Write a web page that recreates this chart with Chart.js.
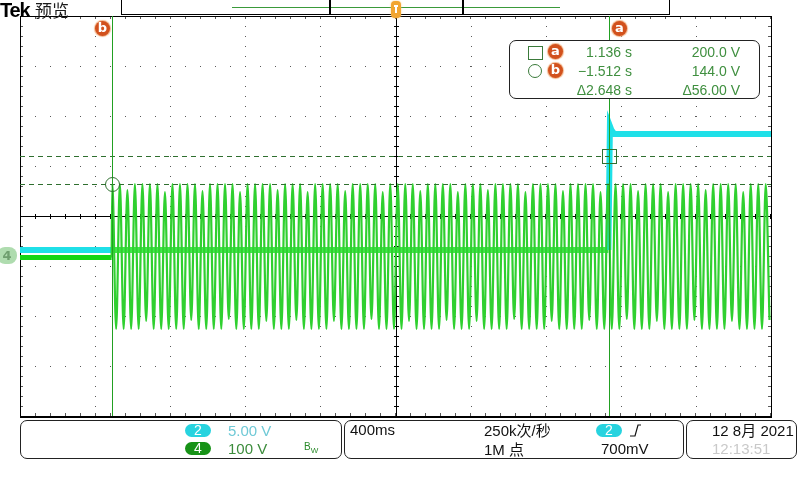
<!DOCTYPE html>
<html>
<head>
<meta charset="utf-8">
<script src="https://cdn.jsdelivr.net/npm/chart.js@4/dist/chart.umd.min.js"></script>
<style>
  html, body { margin: 0; padding: 0; background: #fff; }
  #wrap { position: relative; width: 800px; height: 480px; overflow: hidden; font-family: "Liberation Sans", "DejaVu Sans", sans-serif; }
  #scope { position: absolute; left: 0; top: 0; }
  .abs { position: absolute; white-space: nowrap; }
  .box { position: absolute; border: 1px solid #222; border-radius: 7px; background: #fff; box-sizing: border-box; }
  .ro { color: #3f8f3f; font-size: 14px; line-height: 16px; }
  .tag { position: absolute; width: 15px; height: 15px; border-radius: 50%; background: #d2511d; color: #fff;
         font: bold 13px/14px "DejaVu Sans", sans-serif; text-align: center; box-shadow: 0 0 1px 1px #f2b58a; }
  .pill { position: absolute; width: 26px; height: 13px; border-radius: 7px; color: #fff; text-align: center;
          font: 14px/13px "Liberation Sans", sans-serif; }
  .bt { font-size: 15px; line-height: 16px; color: #111; }
  .cjk { font-family: "Noto Sans CJK SC", sans-serif; }
</style>
</head>
<body>
<div id="wrap">
  <canvas id="scope" width="800" height="480"></canvas>

  <!-- header -->
  <div class="abs" style="left:0;top:1px;font:bold 20px/18px 'Liberation Sans',sans-serif;letter-spacing:-1.2px;color:#000">Tek</div>
  <div class="abs cjk" style="left:35px;top:0;font-size:17px;line-height:20px;color:#1a1a1a">预览</div>
  <div class="abs" style="left:121px;top:-1px;width:549px;height:16px;border:1px solid #000;box-sizing:border-box;background:#fff"></div>
  <div class="abs" style="left:232px;top:7px;width:328px;height:1px;background:#3a9a3a"></div>
  <div class="abs" style="left:329px;top:0;width:135px;height:15px;border-left:2px solid #000;border-right:2px solid #000;box-sizing:border-box"></div>
  <div class="abs" style="left:391px;top:1px;width:10px;height:17px;border-radius:4px;background:#f1a531;box-shadow:0 0 2px #f6c77a"></div>
  <div class="abs" style="left:394px;top:5px;width:4px;height:2px;background:#fff"></div>
  <div class="abs" style="left:395px;top:5px;width:2px;height:8px;background:#fff"></div>

  <!-- cursor labels -->
  <div class="tag" style="left:95px;top:21px">b</div>
  <div class="tag" style="left:612px;top:21px">a</div>

  <!-- ground marker -->
  <div class="abs" style="left:-3px;top:247px;width:20px;height:17px;border-radius:8px;background:#afdcaf;color:#6f9f6f;font:bold 13px/17px 'DejaVu Sans',sans-serif;text-align:center">4</div>

  <!-- cursor readout -->
  <div class="box" style="left:509px;top:40px;width:251px;height:59px"></div>
  <div class="abs" style="left:528px;top:46px;width:13px;height:12px;border:1px solid #3a7a3a"></div>
  <div class="abs" style="left:528px;top:64px;width:14px;height:14px;border:1px solid #3a7a3a;border-radius:50%;box-sizing:border-box"></div>
  <div class="tag" style="left:548px;top:44px">a</div>
  <div class="tag" style="left:548px;top:63px">b</div>
  <div class="abs ro" style="right:168px;top:44px">1.136 s</div>
  <div class="abs ro" style="right:168px;top:63px">−1.512 s</div>
  <div class="abs ro" style="right:168px;top:82px">Δ2.648 s</div>
  <div class="abs ro" style="right:60px;top:44px">200.0 V</div>
  <div class="abs ro" style="right:60px;top:63px">144.0 V</div>
  <div class="abs ro" style="right:60px;top:82px">Δ56.00 V</div>

  <!-- bottom status -->
  <div class="box" style="left:20px;top:420px;width:322px;height:39px"></div>
  <div class="pill" style="left:185px;top:424px;background:#27d3df">2</div>
  <div class="pill" style="left:185px;top:442px;background:#179217">4</div>
  <div class="abs bt" style="left:228px;top:423px;color:#6fc9d6">5.00 V</div>
  <div class="abs bt" style="left:228px;top:441px;color:#3c8c3c">100 V</div>
  <div class="abs" style="left:304px;top:441px;font-size:10px;color:#2a8a2a">B<sub style="font-size:8px">W</sub></div>

  <div class="box" style="left:344px;top:420px;width:340px;height:39px"></div>
  <div class="abs bt" style="left:350px;top:422px">400ms</div>
  <div class="abs bt" style="left:484px;top:422px">250k<span class="cjk">次</span>/<span class="cjk">秒</span></div>
  <div class="abs bt" style="left:484px;top:441px">1M <span class="cjk">点</span></div>
  <div class="pill" style="left:596px;top:424px;background:#27d3df">2</div>
  <svg class="abs" style="left:628px;top:422px" width="14" height="16"><polyline points="2,14 7,14 10,3 13,3" fill="none" stroke="#111" stroke-width="1.2"/></svg>
  <div class="abs bt" style="left:601px;top:441px">700mV</div>

  <div class="box" style="left:686px;top:420px;width:111px;height:39px"></div>
  <div class="abs bt" style="left:712px;top:422px">12 8<span class="cjk">月</span> 2021</div>
  <div class="abs bt" style="left:712px;top:441px;color:#c9c9c9">12:13:51</div>
</div>

<script>
// time base: 400 ms/div, 10 divisions, centre = 0 s
const timeDivs = [-2, -1.6, -1.2, -0.8, -0.4, 0, 0.4, 0.8, 1.2, 1.6, 2];
// ch4: 100 V/div, ground 0.8 div below centre
const voltDivs = [-320, -220, -120, -20, 80, 180, 280, 380, 480];
// ch2: 5 V/div, same ground position
const ch2Range = [-16, 24];

// cursors (read from the readout)
const cursorA = { t: 1.136, v: 200.0 };
const cursorB = { t: -1.512, v: 144.0 };

// ch2 (cyan): low until cursor a, then steps up
const ch2Times = [-2, -1.512, 1.134, 1.142, 1.150, 1.165, 2];
const ch2Volts = [0.6, 0.6, 0.6, 13.0, 12.6, 12.2, 12.2];

// ch4 (green) idle level before the burst
const ch4IdleTimes = [-2, -1.512];
const ch4IdleVolts = [-3, -3];

// ch4 burst: successive displayed peak values, one every ch4Step seconds
const ch4Start = -1.508;
const ch4Step = 0.02;
const ch4Peaks = [
  144,-146,144,-146,132,-146,144,-146,144,-130,144,-146,
  144,-146,128,-146,144,-146,144,-146,144,-128,144,-146,
  130,-146,144,-146,144,-146,144,-126,144,-146,128,-146,
  144,-146,144,-146,144,-130,144,-146,132,-146,144,-146,
  144,-128,144,-146,128,-146,144,-146,144,-146,144,-130,
  144,-146,130,-146,144,-146,144,-146,144,-126,144,-146,
  128,-146,144,-146,144,-146,144,-130,144,-146,130,-146,
  144,-146,144,-146,144,-128,144,-146,128,-146,144,-146,
  144,-130,144,-146,132,-146,144,-146,144,-146,144,-126,
  144,-146,128,-146,144,-146,144,-146,144,-130,144,-146,
  130,-146,144,-146,144,-146,144,-128,144,-146,128,-146,
  144,-146,144,-146,144,-126,144,-146,130,-146,144,-146,
  144,-130,144,-146,128,-146,144,-146,144,-146,144,-128,
  144,-146,132,-146,144,-146,144,-146,144,-130,144,-146,
  128,-146,144,-146,144,-146,144,-128
];

const ch2Data = ch2Times.map((t, i) => ({ x: t, y: ch2Volts[i] }));
const ch4IdleData = ch4IdleTimes.map((t, i) => ({ x: t, y: ch4IdleVolts[i] }));
const ch4Burst = [{ x: ch4IdleTimes[1], y: ch4IdleVolts[1] }]
  .concat(ch4Peaks.map((v, i) => ({ x: ch4Start + i * ch4Step, y: v })));

const graticule = {
  id: 'graticule',
  beforeDatasetsDraw(chart) {
    const { ctx, chartArea: a, scales: { x, y } } = chart;
    ctx.save();
    ctx.fillStyle = '#5a5a5a';
    const xs = timeDivs.map(v => Math.round(x.getPixelForValue(v)));
    const ys = voltDivs.map(v => Math.round(y.getPixelForValue(v)));
    const dx = (xs[1] - xs[0]) / 5;
    const dy = (ys[0] - ys[1]) / 5;
    // dotted division lines
    xs.slice(1, -1).forEach(px => {
      for (let py = a.top; py <= a.bottom; py += dy) ctx.fillRect(px, Math.round(py), 1, 1);
    });
    ys.slice(1, -1).forEach(py => {
      for (let px = a.left; px <= a.right; px += dx) ctx.fillRect(Math.round(px), py, 1, 1);
    });
    // minor ticks on the frame
    for (let px = a.left; px <= a.right; px += dx) {
      ctx.fillRect(Math.round(px), a.top, 1, 3);
      ctx.fillRect(Math.round(px), a.bottom - 3, 1, 3);
    }
    for (let py = a.top; py <= a.bottom; py += dy) {
      ctx.fillRect(a.left, Math.round(py), 3, 1);
      ctx.fillRect(a.right - 3, Math.round(py), 3, 1);
    }
    // centre cross with ticks
    const cx = Math.round(x.getPixelForValue(0));
    const cy = Math.round(y.getPixelForValue((voltDivs[0] + voltDivs[voltDivs.length - 1]) / 2));
    ctx.fillStyle = '#000';
    ctx.fillRect(cx, a.top, 1, a.bottom - a.top);
    ctx.fillRect(a.left, cy, a.right - a.left, 1);
    for (let px = a.left; px <= a.right; px += dx) ctx.fillRect(Math.round(px), cy - 2, 1, 5);
    for (let py = a.top; py <= a.bottom; py += dy) ctx.fillRect(cx - 2, Math.round(py), 5, 1);
    // frame
    ctx.fillRect(a.left, a.top, a.right - a.left + 1, 1);
    ctx.fillRect(a.left, a.top, 1, a.bottom - a.top);
    ctx.fillRect(a.right, a.top, 1, a.bottom - a.top);
    ctx.fillRect(a.left, a.bottom, a.right - a.left + 1, 2);
    ctx.restore();
  }
};

const cursors = {
  id: 'cursors',
  afterDatasetsDraw(chart) {
    const { ctx, chartArea: a, scales: { x, y } } = chart;
    ctx.save();
    ctx.lineWidth = 1;
    ctx.strokeStyle = '#2f6f2f';
    ctx.setLineDash([5, 4]);
    [cursorA, cursorB].forEach(c => {
      const py = Math.round(y.getPixelForValue(c.v)) + 0.5;
      ctx.beginPath();
      ctx.moveTo(a.left, py);
      ctx.lineTo(a.right, py);
      ctx.stroke();
    });
    ctx.setLineDash([]);
    ctx.strokeStyle = '#22a022';
    [cursorA, cursorB].forEach(c => {
      const px = Math.round(x.getPixelForValue(c.t)) + 0.5;
      ctx.beginPath();
      ctx.moveTo(px, a.top);
      ctx.lineTo(px, a.bottom);
      ctx.stroke();
    });
    ctx.strokeStyle = '#2f6f2f';
    const ax = Math.round(x.getPixelForValue(cursorA.t)) + 0.5;
    const ay = Math.round(y.getPixelForValue(cursorA.v)) + 0.5;
    ctx.strokeRect(ax - 7, ay - 7, 14, 14);
    const bx = Math.round(x.getPixelForValue(cursorB.t)) + 0.5;
    const by = Math.round(y.getPixelForValue(cursorB.v)) + 0.5;
    ctx.beginPath();
    ctx.arc(bx, by, 7, 0, Math.PI * 2);
    ctx.stroke();
    ctx.restore();
  }
};

// ch2 is hidden under the burst on the scope, where the two traces blend to a bright green
const underBurst = c => (c.p0.parsed.x >= cursorB.t && c.p1.parsed.x <= cursorA.t ? '#3fe84a' : undefined);

new Chart(document.getElementById('scope'), {
  type: 'line',
  data: {
    datasets: [
      { data: ch4Burst, borderColor: '#2fd02f', borderWidth: 2.2, pointRadius: 0,
        cubicInterpolationMode: 'monotone', yAxisID: 'y' },
      { data: ch4IdleData, borderColor: '#14d614', borderWidth: 5, pointRadius: 0, tension: 0, yAxisID: 'y' },
      { data: ch2Data, borderColor: '#1fe0e8', borderWidth: 6, pointRadius: 0, tension: 0, yAxisID: 'y2',
        segment: { borderColor: underBurst } }
    ]
  },
  options: {
    responsive: false,
    devicePixelRatio: 1,
    animation: false,
    events: [],
    layout: { padding: { left: 20, top: 16, right: 29, bottom: 64 } },
    scales: {
      x: { type: 'linear', display: false, min: timeDivs[0], max: timeDivs[timeDivs.length - 1] },
      y: { display: false, min: voltDivs[0], max: voltDivs[voltDivs.length - 1] },
      y2: { display: false, min: ch2Range[0], max: ch2Range[1] }
    },
    plugins: { legend: { display: false }, tooltip: { enabled: false } }
  },
  plugins: [graticule, cursors]
});
</script>
</body>
</html>
